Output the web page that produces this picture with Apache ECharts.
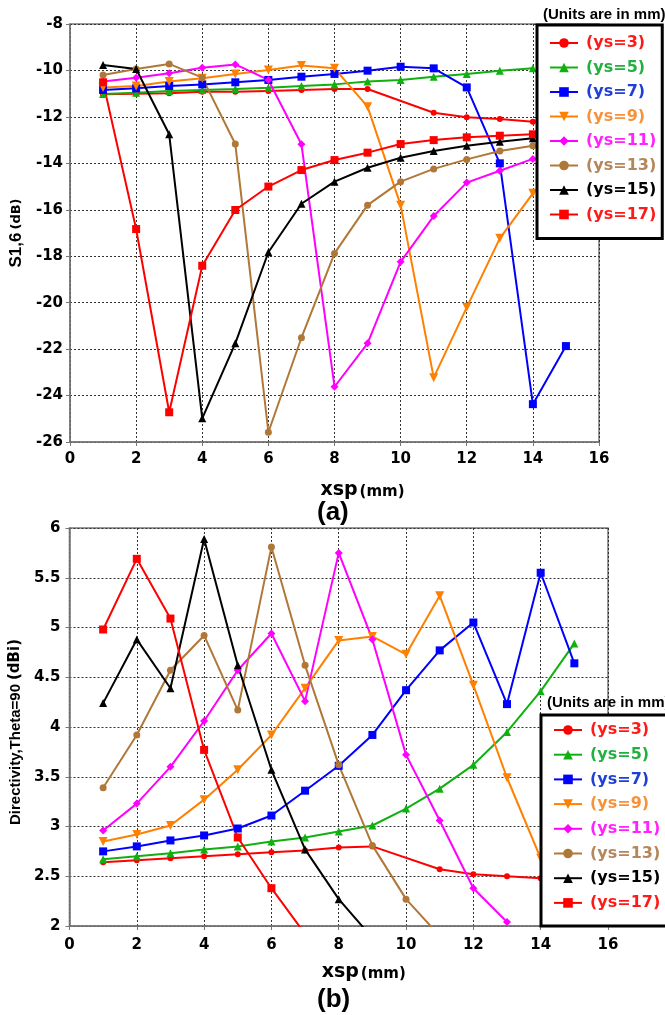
<!DOCTYPE html>
<html><head><meta charset="utf-8">
<script src="https://cdn.jsdelivr.net/npm/echarts@6/dist/echarts.min.js"></script>
<style>html,body{margin:0;padding:0;background:#fff}#c{width:665px;height:1015px}</style>
</head><body><div id="c"></div>
<script>
// ---- data ----
const xsp = [1,2,3,4,5,6,7,8,9,10,11,12,13,14,15];
const names = ['(ys=3)','(ys=5)','(ys=7)','(ys=9)','(ys=11)','(ys=13)','(ys=15)','(ys=17)'];
const xTicks = [0,2,4,6,8,10,12,14,16];

// (a) S1,6 (dB)
const sA_ys3  = [-11.03,-11.0,-10.98,-10.92,-10.92,-10.88,-10.84,-10.8,-10.8,null,-11.82,-12.02,-12.09,-12.21];
const sA_ys5  = [-11.01,-10.96,-10.89,-10.84,-10.8,-10.74,-10.67,-10.6,-10.48,-10.41,-10.27,-10.15,-10.01,-9.91];
const sA_ys7  = [-10.84,-10.77,-10.67,-10.6,-10.51,-10.41,-10.27,-10.15,-10.01,-9.84,-9.91,-10.73,-14.0,-24.37,-21.87];
const sA_ys9  = [-10.73,-10.67,-10.48,-10.34,-10.15,-9.98,-9.79,-9.91,-11.56,-15.8,-23.23,-20.2,-17.23,-15.29];
const sA_ys11 = [-10.48,-10.31,-10.12,-9.88,-9.74,-10.41,-13.18,-23.62,-21.75,-18.24,-16.27,-14.83,-14.32,-13.81];
const sA_ys13 = [-10.2,-9.94,-9.72,-10.31,-13.17,-25.58,-21.51,-17.88,-15.8,-14.79,-14.24,-13.83,-13.47,-13.24];
const sA_ys15 = [-9.77,-9.94,-12.75,-24.98,-21.75,-17.83,-15.74,-14.79,-14.19,-13.76,-13.47,-13.24,-13.07,-12.92];
const sA_ys17 = [-10.51,-16.83,-24.72,-18.41,-16.01,-15.0,-14.29,-13.86,-13.54,-13.17,-13.0,-12.88,-12.81,-12.75];

// (b) Directivity, Theta=90 (dBi)
const dB_ys3  = [2.64,2.66,2.68,2.70,2.72,2.74,2.76,2.79,2.80,null,2.57,2.52,2.50,2.48];
const dB_ys5  = [2.67,2.70,2.73,2.77,2.80,2.85,2.89,2.95,3.01,3.18,3.38,3.62,3.95,4.36,4.84];
const dB_ys7  = [2.75,2.80,2.86,2.91,2.98,3.11,3.36,3.61,3.92,4.37,4.77,5.05,4.23,5.55,4.64];
const dB_ys9  = [2.85,2.92,3.01,3.27,3.57,3.92,4.39,4.87,4.91,4.73,5.32,4.42,3.49,2.68];
const dB_ys11 = [2.96,3.23,3.60,4.06,4.57,4.94,4.26,5.75,4.88,3.72,3.06,2.38,2.04];
const dB_ys13 = [3.39,3.92,4.57,4.92,4.17,5.81,4.62,3.62,2.81,2.27,1.90];
const dB_ys15 = [4.24,4.88,4.39,5.89,4.62,3.57,2.77,2.27,1.88];
const dB_ys17 = [4.98,5.69,5.09,3.77,2.89,2.38,1.92];

// ---- styles ----
const colors = ['#ff0000','#10b010','#0000ff','#ff8000','#ff00ff','#b07838','#000000','#ff0000'];
const textColors = ['#ff1a1a','#22b040','#1e3fd8','#f7923a','#ff22ff','#b5865a','#000000','#ff1a1a'];
const downTri = 'path://M0,0 L10,0 L5,9 Z';
const symbols = ['circle','triangle','rect',downTri,'diamond','circle','triangle','rect'];
const symSizes = [6,8,8,9,8,7,8,8];

const seriesA = [sA_ys3,sA_ys5,sA_ys7,sA_ys9,sA_ys11,sA_ys13,sA_ys15,sA_ys17];
const seriesB = [dB_ys3,dB_ys5,dB_ys7,dB_ys9,dB_ys11,dB_ys13,dB_ys15,dB_ys17];

function mk(arr, idx, gi) {
  return {
    name: names[idx], type: 'line', xAxisIndex: gi, yAxisIndex: gi,
    data: arr.map((v,i)=>[xsp[i], v]),
    connectNulls: true, clip: true,
    symbol: symbols[idx], symbolSize: symSizes[idx], showAllSymbol: true,
    lineStyle: {color: colors[idx], width: 2},
    itemStyle: {color: colors[idx]},
    emphasis: {disabled: true}, animation: false
  };
}
const series = [];
seriesA.forEach((a,i)=>series.push(mk(a,i,0)));
seriesB.forEach((a,i)=>series.push(mk(a,i,1)));

const tickFont = {fontFamily:'DejaVu Sans', fontWeight:'bold', fontSize:15, color:'#000'};
const splitL = {show:true, lineStyle:{color:'#333', type:[2,2], width:1}};
const axLine = {show:true, lineStyle:{color:'#777', width:1.5}};

function xAx(gi, margin, gap, padL) {
  return {type:'value', gridIndex:gi, min:0, max:16, interval:2,
    axisLine: axLine, axisTick:{show:true, length:4, lineStyle:{color:'#777'}},
    axisLabel: Object.assign({margin:margin, formatter: v => xTicks.includes(v) ? String(v) : ''}, tickFont),
    splitLine: splitL,
    name:'{b|xsp}{s|(mm)}', nameLocation:'middle', nameGap: gap,
    nameTextStyle:{padding:[0,0,0,padL], rich:{b:{fontFamily:'DejaVu Sans',fontWeight:'bold',fontSize:19,color:'#000'}, s:{fontFamily:'DejaVu Sans',fontWeight:'bold',fontSize:15,color:'#000',padding:[3,0,0,2]}}}
  };
}
const legendData = names.map((n,i)=>({name:n, textStyle:{color:textColors[i]}}));
function leg(left, top, pad, gap) {
  return {orient:'vertical', left:left, top:top, data:legendData,
    itemWidth:28, itemHeight:12, itemGap:gap,
    padding:pad, borderColor:'#000', borderWidth:3, backgroundColor:'#fff',
    selectedMode:false, z:10,
    textStyle:{fontFamily:'DejaVu Sans', fontWeight:'bold', fontSize:16, lineHeight:20, padding:[0,0,0,3]}
  };
}

const option = {
  animation:false,
  backgroundColor:'#fff',
  title:[
    {text:'(a)', left:312, top:495, textStyle:{fontFamily:'Liberation Sans', fontWeight:'bold', fontSize:26, color:'#000'}},
    {text:'(b)', left:312, top:982, textStyle:{fontFamily:'Liberation Sans', fontWeight:'bold', fontSize:26, color:'#000'}},
    {text:'(Units are in mm)', left:543, top:7, padding:0, textStyle:{fontFamily:'Liberation Sans', fontWeight:'bold', fontSize:15, color:'#000'}},
    {text:'(Units are in mm)', left:547, top:695, padding:0, textStyle:{fontFamily:'Liberation Sans', fontWeight:'bold', fontSize:15, color:'#000'}}
  ],
  grid:[
    {left:67, top:24, width:532, height:418, show:true, borderColor:'#777', borderWidth:1.5, backgroundColor:'transparent'},
    {left:63, top:528, width:545, height:398, show:true, borderColor:'#777', borderWidth:1.5, backgroundColor:'transparent'}
  ],
  xAxis:[xAx(0,10,39,56), xAx(1,12,37,50)],
  yAxis:[
    {type:'value', gridIndex:0, min:-26, max:-8, interval:2,
     axisLine:axLine, axisTick:{show:true, length:4, lineStyle:{color:'#777'}},
     axisLabel:Object.assign({margin:7}, tickFont), splitLine:splitL,
     name:'{b|S1,6}{s|(dB)}', nameLocation:'middle', nameRotate:90, nameGap:42,
     nameTextStyle:{padding:[0,0,0,0], rich:{b:{fontFamily:'Liberation Sans',fontWeight:'bold',fontSize:17,color:'#000'}, s:{fontFamily:'DejaVu Sans',fontWeight:'bold',fontSize:13,color:'#000',padding:[0,0,0,3]}}}
    },
    {type:'value', gridIndex:1, min:2, max:6, interval:0.5,
     axisLine:axLine, axisTick:{show:true, length:4, lineStyle:{color:'#777'}},
     axisLabel:Object.assign({margin:9}, tickFont), splitLine:splitL,
     name:'{b|Directivity,Theta=90}{s|(dBi)}', nameLocation:'middle', nameRotate:90, nameGap:39,
     nameTextStyle:{padding:[0,10,0,0], rich:{b:{fontFamily:'Liberation Sans',fontWeight:'bold',fontSize:15,color:'#000'}, s:{fontFamily:'DejaVu Sans',fontWeight:'bold',fontSize:15,color:'#000',padding:[0,0,0,4]}}}
    }
  ],
  legend:[leg(537,25,[8,6,14,12],4.5), leg(541,715,[5,14,13,12],4.7)],
  series: series
};
const chart = echarts.init(document.getElementById('c'), null, {renderer:'canvas'});
chart.setOption(option);
</script></body></html>
